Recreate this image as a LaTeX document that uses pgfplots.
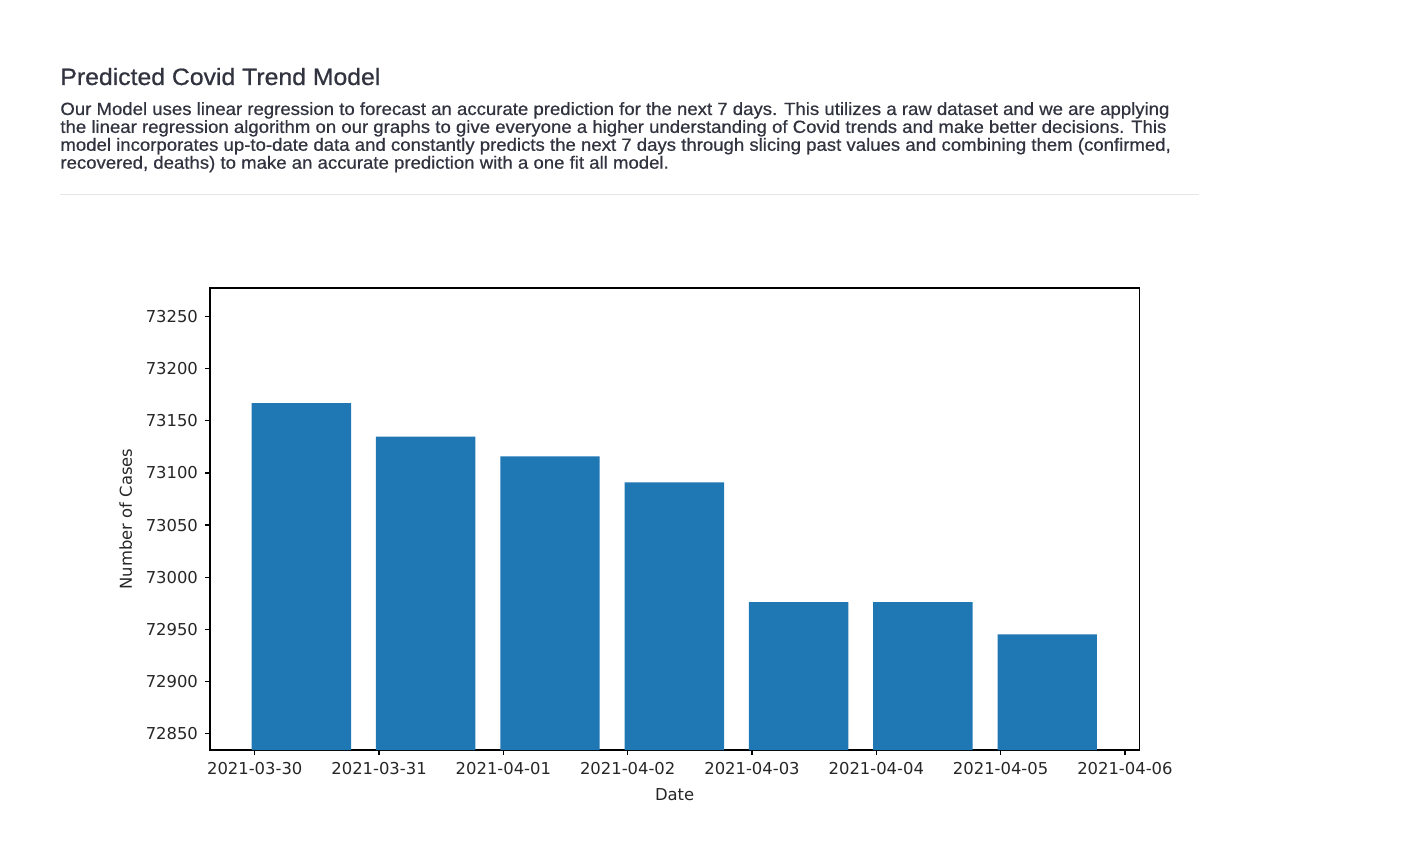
\documentclass[border=0pt]{standalone}
\usepackage{fontspec}
\setmainfont{Liberation Sans}
\newfontfamily\bodyfont[FakeBold=0.6, FakeStretch=1.05]{Liberation Sans}
\newfontfamily\titlefont[FakeBold=0.8, FakeStretch=1.05]{Liberation Sans}
\newfontfamily\dejavu{DejaVu Sans}
\usepackage{pgfplots}
\pgfplotsset{compat=1.18}
\definecolor{mplblue}{HTML}{1F77B4}
\definecolor{sttext}{HTML}{31333F}
\definecolor{rulegrey}{HTML}{E6E6E6}

\begin{document}
\begin{tikzpicture}
\path[use as bounding box] (0,0) rectangle (708pt,420pt);

% page header
\node[anchor=base west, inner sep=0, text=sttext, font=\titlefont\fontsize{11.8}{14}\selectfont]
  at (30pt,377.5pt) {Predicted Covid Trend Model};
\begin{scope}[every node/.style={anchor=base west, inner sep=0, text=sttext,
    font=\bodyfont\fontsize{8.85}{10}\selectfont}]
\node at (30pt,362.5pt) {Our Model uses linear regression to forecast an accurate prediction for the next 7 days. This utilizes a raw dataset and we are applying};
\node at (30pt,353.55pt) {the linear regression algorithm on our graphs to give everyone a higher understanding of Covid trends and make better decisions. This};
\node at (30pt,344.6pt) {model incorporates up-to-date data and constantly predicts the next 7 days through slicing past values and combining them (confirmed,};
\node at (30pt,335.65pt) {recovered, deaths) to make an accurate prediction with a one fit all model.};
\end{scope}
\draw[rulegrey, line width=0.5pt] (30pt,322.5pt) -- (599.5pt,322.5pt);

\begin{axis}[
    at={(105pt,45pt)}, anchor=south west,
    scale only axis, width=464.6pt, height=231pt,
    xmin=-0.36, xmax=7.115,
    ymin=72834, ymax=73277.6,
    xtick={0,...,7},
    xticklabels={2021-03-30,2021-03-31,2021-04-01,2021-04-02,2021-04-03,2021-04-04,2021-04-05,2021-04-06},
    ytick={72850,72900,...,73250},
    scaled y ticks=false,
    tick align=outside, major tick length=2.5pt,
    xtick pos=bottom, ytick pos=left,
    axis line style={line width=0.6pt},
    every tick/.style={black, line width=0.6pt},
    tick label style={font=\dejavu\fontsize{8.2}{9}\selectfont, text=black!85},
    label style={font=\dejavu\fontsize{8.2}{9}\selectfont, text=black!85},
    /pgf/number format/1000 sep={},
    /pgf/number format/assume math mode=true,
    xlabel=Date, ylabel=Number of Cases,
    ybar, bar width=0.8, bar shift=0.375,
]
\addplot[fill=mplblue, draw=none] coordinates {
    (0,73167) (1,73135) (2,73116) (3,73091) (4,72976) (5,72976) (6,72945)};
\end{axis}
\end{tikzpicture}
\end{document}
